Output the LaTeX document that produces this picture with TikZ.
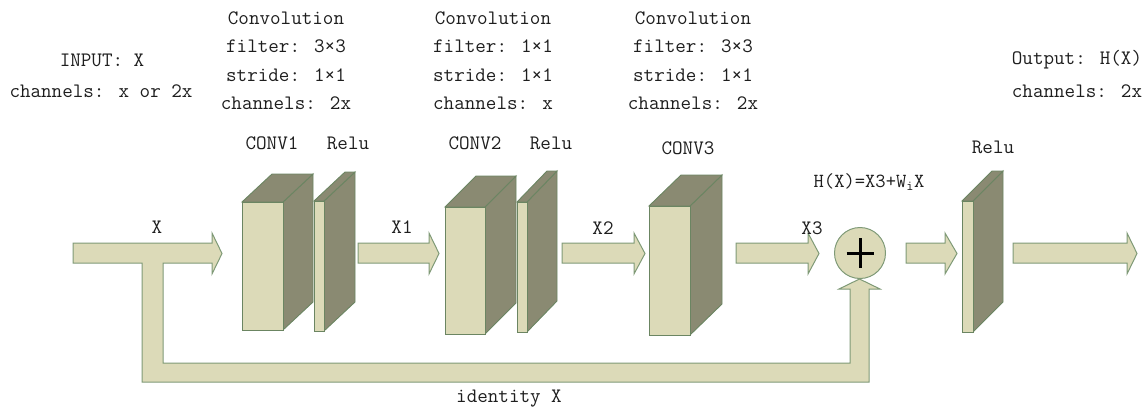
\documentclass[tikz,border=0pt]{standalone}
\usepackage{fontspec}
\definecolor{cfront}{HTML}{DCDAB8}
\definecolor{cside}{HTML}{8A8A72}
\definecolor{cedge}{HTML}{6B8562}
\definecolor{carrow}{HTML}{7F9A77}
\definecolor{ctext}{HTML}{1E1E1E}
\tikzset{
  lightf/.style={fill=cfront, draw=cedge, line width=0.9pt, line join=miter},
  darkf/.style={fill=cside, draw=cedge, line width=0.9pt, line join=miter},
  arr/.style={fill=cfront, draw=carrow, line width=1pt, line join=miter},
  lbl/.style={font=\ttfamily\addfontfeature{FakeBold=0.5}\fontsize{20.5}{28.5}\selectfont, inner sep=0pt, align=center, text=ctext},
  smalllbl/.style={font=\ttfamily\addfontfeature{FakeBold=0.5}\fontsize{20}{24}\selectfont, inner sep=0pt, align=center, text=ctext},
}
\newcommand\blk[6]{%
  \draw[darkf] (#2,#3) -- (#2+#5,#3-#6) -- (#2+#5,#4-#6) -- (#2,#4) -- cycle;
  \draw[darkf] (#1,#3) -- (#1+#5,#3-#6) -- (#2+#5,#3-#6) -- (#2,#3) -- cycle;
  \draw[lightf] (#1,#3) rectangle (#2,#4);
}
\newcommand\harr[3]{%
  \draw[arr] (#1,243) -- (#2,243) -- (#2,233) -- (#3,253.5) -- (#2,274) -- (#2,263) -- (#1,263) -- cycle;
}
\begin{document}
\begin{tikzpicture}[x=1pt,y=-1pt]
\useasboundingbox (0,0) rectangle (1143,410);

% input arrow with identity branch
\draw[arr] (73,243) -- (212,243) -- (212,233) -- (222,253.5) -- (212,274) -- (212,263)
  -- (163,263) -- (163,363) -- (850,363) -- (850,289) -- (839,289) -- (859.5,279)
  -- (880,289) -- (869,289) -- (869,382) -- (142,382) -- (142,263) -- (73,263) -- cycle;

% blocks
\blk{242}{283}{202}{330}{30}{28}
\blk{314}{324}{201}{331}{31}{29}
\blk{445}{485}{207}{334}{31}{31}
\blk{517}{527}{202}{332}{30}{31}
\blk{649}{690}{206}{335}{32}{31}
\blk{962}{973}{201}{332}{30}{30}

% arrows
\harr{358}{429}{439}
\harr{562}{634}{645}
\harr{736}{808}{819}
\harr{906}{945}{957}
\harr{1013}{1127}{1137}

% sum node
\node[circle, minimum size=51pt, inner sep=0pt, fill=cfront, draw=carrow, line width=1pt] (sum) at (860,253) {};
\draw[line width=3pt, black] (sum.center) ++(-13.5,0) -- ++(27,0);
\draw[line width=3pt, black] (sum.center) ++(0,-15) -- ++(0,30);

% texts
\node[lbl] (in1) at (102,60) {INPUT: X};
\node[lbl] (in2) at (101,91) {channels: x or 2x};
\node[lbl] (c1) at (286,60.5) {Convolution\\filter: 3×3\\stride: 1×1\\channels: 2x};
\node[lbl] (c2) at (493,60.5) {Convolution\\filter: 1×1\\stride: 1×1\\channels: x};
\node[lbl] (c3) at (693,60.5) {Convolution\\filter: 3×3\\stride: 1×1\\channels: 2x};
\node[lbl] (out1) at (1077,60) {Output: H(X)};
\node[lbl] (out2) at (1077,91) {channels: 2x};

\node[lbl] (conv1) at (272,143) {CONV1};
\node[lbl] (relu1) at (348,143) {Relu};
\node[lbl] (conv2) at (475,143) {CONV2};
\node[lbl] (relu2) at (551,143) {Relu};
\node[lbl] (conv3) at (688,148) {CONV3};
\node[lbl] (relu3) at (993,147) {Relu};
\node[smalllbl] (hx) at (869,182) {H(X)=X3+W\textsubscript{i}X};

\node[lbl] (lx) at (157,227) {X};
\node[lbl] (lx1) at (402,227) {X1};
\node[lbl] (lx2) at (603,228) {X2};
\node[lbl] (lx3) at (812,228) {X3};
\node[lbl] (id) at (509,399) {identity X};
\end{tikzpicture}
\end{document}
